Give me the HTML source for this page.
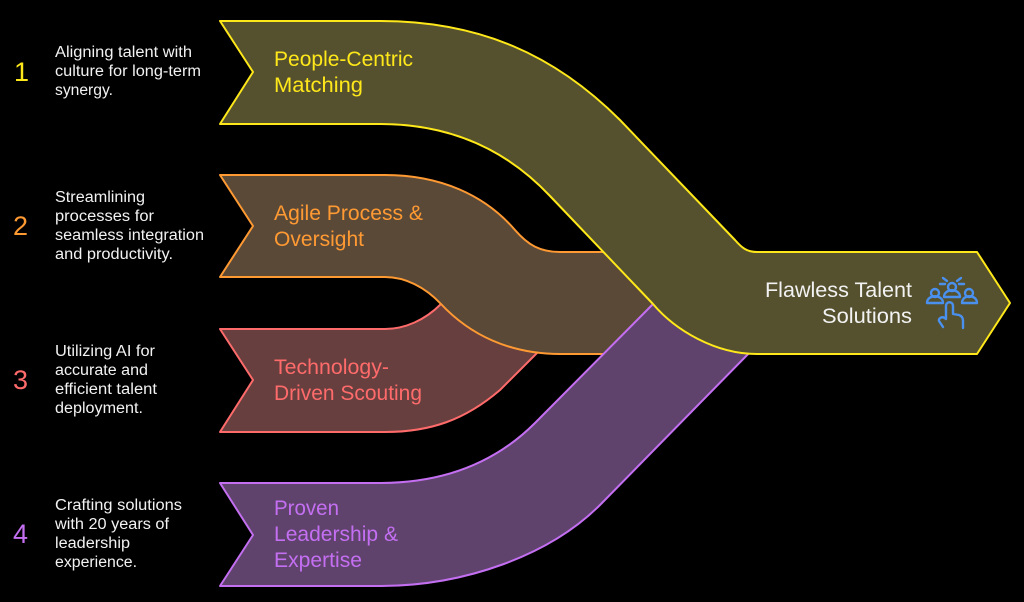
<!DOCTYPE html>
<html><head><meta charset="utf-8"><style>
html,body{margin:0;padding:0;background:#000;width:1024px;height:602px;overflow:hidden}
svg{display:block}
text{font-family:"Liberation Sans",sans-serif}
.d{font-size:15.5px;fill:#f2f2f2}
.n{font-size:27px}
.l{font-size:21.5px}
</style></head><body>
<svg width="1024" height="602" viewBox="0 0 1024 602">
<rect width="1024" height="602" fill="#000"/>
<path d="M220,329 L385,329 C405,329 425,320 441,304 L480,300 L537,353 L500,390 C465,420 430,432 385,432 L220,432 L253,380 Z" fill="#673f3f" stroke="#ff6b6b" stroke-width="2" stroke-linejoin="round"/>
<path d="M220,175 L385,175 C440,175 485,195 515,230 C528,245 540,252 560,252 L640,252 L660,304 L640,354 L560,354 C510,354 470,335 441,304 C425,287 405,277 385,277 L220,277 L253,226 Z" fill="#5b4938" stroke="#ff9a33" stroke-width="2" stroke-linejoin="round"/>
<path d="M220,483 L380,483 C435,483 490,468 535,423 L660,297 L755,347 L600,505 C550,555 465,586 380,586 L220,586 L253,535 Z" fill="#5f436c" stroke="#c46ff2" stroke-width="2" stroke-linejoin="round"/>
<path d="M220,21 L380,21 C480,21 555,55 620,120 L735,240 C742,248 747,252 757,252 L977,252 L1010,303 L977,354 L757,354 C715,354 675,330 653,304 L550,196 C503,146 445,124 380,124 L220,124 L253,72 Z" fill="#55512f" stroke="#ffe81a" stroke-width="2" stroke-linejoin="round"/>

<text class="n" x="14" y="81" fill="#ffe81a">1</text>
<text class="n" x="13" y="235" fill="#ff9a33">2</text>
<text class="n" x="13" y="389" fill="#ff6b6b">3</text>
<text class="n" x="13" y="543" fill="#c46ff2">4</text>

<text class="d" x="55" y="57" textLength="137" lengthAdjust="spacingAndGlyphs">Aligning talent with</text>
<text class="d" x="55" y="76" textLength="146" lengthAdjust="spacingAndGlyphs">culture for long-term</text>
<text class="d" x="55" y="95" textLength="58" lengthAdjust="spacingAndGlyphs">synergy.</text>

<text class="d" x="55" y="202" textLength="90" lengthAdjust="spacingAndGlyphs">Streamlining</text>
<text class="d" x="55" y="221" textLength="99" lengthAdjust="spacingAndGlyphs">processes for</text>
<text class="d" x="55" y="240" textLength="149" lengthAdjust="spacingAndGlyphs">seamless integration</text>
<text class="d" x="55" y="259" textLength="118" lengthAdjust="spacingAndGlyphs">and productivity.</text>

<text class="d" x="55" y="356" textLength="100" lengthAdjust="spacingAndGlyphs">Utilizing AI for</text>
<text class="d" x="55" y="375" textLength="93" lengthAdjust="spacingAndGlyphs">accurate and</text>
<text class="d" x="55" y="394" textLength="102" lengthAdjust="spacingAndGlyphs">efficient talent</text>
<text class="d" x="55" y="413" textLength="88" lengthAdjust="spacingAndGlyphs">deployment.</text>

<text class="d" x="55" y="510" textLength="127" lengthAdjust="spacingAndGlyphs">Crafting solutions</text>
<text class="d" x="55" y="529" textLength="114" lengthAdjust="spacingAndGlyphs">with 20 years of</text>
<text class="d" x="55" y="548" textLength="75" lengthAdjust="spacingAndGlyphs">leadership</text>
<text class="d" x="55" y="567" textLength="82" lengthAdjust="spacingAndGlyphs">experience.</text>

<text class="l" x="274" y="66" fill="#ffe81a" textLength="139" lengthAdjust="spacingAndGlyphs">People-Centric</text>
<text class="l" x="274" y="92" fill="#ffe81a" textLength="89" lengthAdjust="spacingAndGlyphs">Matching</text>

<text class="l" x="274" y="220" fill="#ff9a33" textLength="149" lengthAdjust="spacingAndGlyphs">Agile Process &amp;</text>
<text class="l" x="274" y="246" fill="#ff9a33" textLength="90" lengthAdjust="spacingAndGlyphs">Oversight</text>

<text class="l" x="274" y="374" fill="#ff6b6b" textLength="115" lengthAdjust="spacingAndGlyphs">Technology-</text>
<text class="l" x="274" y="400" fill="#ff6b6b" textLength="148" lengthAdjust="spacingAndGlyphs">Driven Scouting</text>

<text class="l" x="274" y="515" fill="#c46ff2" textLength="65" lengthAdjust="spacingAndGlyphs">Proven</text>
<text class="l" x="274" y="541" fill="#c46ff2" textLength="124" lengthAdjust="spacingAndGlyphs">Leadership &amp;</text>
<text class="l" x="274" y="567" fill="#c46ff2" textLength="88" lengthAdjust="spacingAndGlyphs">Expertise</text>

<text class="l" x="765" y="297" fill="#f2f2f2" textLength="147" lengthAdjust="spacingAndGlyphs">Flawless Talent</text>
<text class="l" x="822" y="323" fill="#f2f2f2" textLength="90" lengthAdjust="spacingAndGlyphs">Solutions</text>

<g fill="none" stroke="#4a90ee" stroke-width="2.4" stroke-linecap="round" stroke-linejoin="round">
<circle cx="952" cy="287" r="4"/>
<path d="M944,297 C944,288 960,288 960,297 Z"/>
<circle cx="935" cy="293" r="4"/>
<path d="M927,303 C927,294 943,294 943,303 Z"/>
<circle cx="969" cy="293" r="4"/>
<path d="M962,303 C962,294 977,294 977,303 Z"/>
<path d="M940,284 H945 M959,284 H964 M943,278 L947,281 M961,278 L957,281"/>
<path d="M943,327 L939,321 C938,319 942,315 946,319 L946,306 C946,301 953,301 953,306 L953,314 L959,315 C962,316 963,318 963,321 L963,328"/>
</g>
</svg>
</body></html>
